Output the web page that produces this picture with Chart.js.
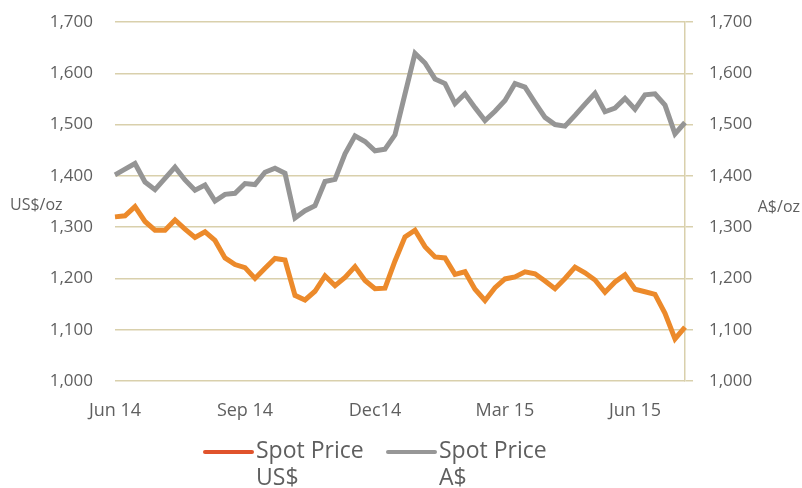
<!DOCTYPE html>
<html lang="en">

<head>
    <meta charset="UTF-8">
    <script src="https://cdn.jsdelivr.net/npm/chart.js"></script>
    <title>Gold spot price</title>
    <style>
        body { margin: 0; background: #fff; }
        #wrap { width: 802px; height: 488px; }
    </style>
</head>

<body>
    <div id="wrap"><canvas id="gold"></canvas></div>
</body>

<script>
    // weekly categories, Jun 2014 - Jul 2015
    const weeks = ['2 Jun 14', '9 Jun 14', '16 Jun 14', '23 Jun 14', '30 Jun 14', '7 Jul 14', '14 Jul 14', '21 Jul 14',
        '28 Jul 14', '4 Aug 14', '11 Aug 14', '18 Aug 14', '25 Aug 14', '1 Sep 14', '8 Sep 14', '15 Sep 14',
        '22 Sep 14', '29 Sep 14', '6 Oct 14', '13 Oct 14', '20 Oct 14', '27 Oct 14', '3 Nov 14', '10 Nov 14',
        '17 Nov 14', '24 Nov 14', '1 Dec 14', '8 Dec 14', '15 Dec 14', '22 Dec 14', '29 Dec 14', '5 Jan 15',
        '12 Jan 15', '19 Jan 15', '26 Jan 15', '2 Feb 15', '9 Feb 15', '16 Feb 15', '23 Feb 15', '2 Mar 15',
        '9 Mar 15', '16 Mar 15', '23 Mar 15', '30 Mar 15', '6 Apr 15', '13 Apr 15', '20 Apr 15', '27 Apr 15',
        '4 May 15', '11 May 15', '18 May 15', '25 May 15', '1 Jun 15', '8 Jun 15', '15 Jun 15', '22 Jun 15',
        '29 Jun 15', '6 Jul 15'];

    // which category gets a tick label
    const tickLabels = { 0: 'Jun 14', 13: 'Sep 14', 26: 'Dec14', 39: 'Mar 15', 52: 'Jun 15' };

    const spotUS = [1320, 1322, 1340, 1311, 1294, 1294, 1314, 1296, 1280, 1291,
        1274, 1240, 1227, 1221, 1200, 1220, 1239, 1236, 1167, 1158,
        1175, 1205, 1186, 1202, 1223, 1196, 1180, 1181, 1234, 1281,
        1294, 1262, 1242, 1240, 1208, 1213, 1179, 1157, 1182, 1199,
        1203, 1213, 1209, 1195, 1180, 1200, 1222, 1211, 1197, 1173,
        1193, 1207, 1179, 1174, 1169, 1132, 1082, 1105];

    const spotAU = [1402, 1413, 1424, 1388, 1373, 1395, 1417, 1392, 1372, 1382,
        1351, 1364, 1366, 1385, 1383, 1407, 1415, 1405, 1318, 1332,
        1342, 1389, 1393, 1443, 1478, 1467, 1449, 1452, 1480, 1560,
        1639, 1620, 1589, 1580, 1541, 1560, 1533, 1508, 1526, 1547,
        1580, 1573, 1543, 1514, 1500, 1497, 1518, 1540, 1561, 1525,
        1532, 1551, 1530, 1558, 1560, 1538, 1482, 1504];

    const seriesNames = [['Spot Price', 'US$'], ['Spot Price', 'A$']];
    const unitNames = ['US$/oz', 'A$/oz'];

    const textColor = '#5f5f5f';
    const gridColor = '#d9d0ac';
    const orange = '#ec8a2b';
    const grey = '#959595';
    const legendColors = ['#e0532c', '#979797'];

    // unit labels beside each axis + the two-line legend at the bottom
    const extras = {
        id: 'extras',
        afterDraw(chart) {
            let ctx = chart.ctx;
            let a = chart.chartArea;
            ctx.save();
            ctx.fillStyle = textColor;
            ctx.textBaseline = 'middle';
            ctx.font = '16px "Open Sans"';
            let ty = a.top + (a.bottom - a.top) * 0.51;
            ctx.textAlign = 'left';
            ctx.fillText(unitNames[0], 10, ty);
            ctx.textAlign = 'right';
            ctx.fillText(unitNames[1], 800, ty + 2);

            ctx.font = '23px "Open Sans"';
            ctx.textAlign = 'left';
            for (let i = 0; i < seriesNames.length; i++) {
                let x = 205 + i * 183;
                ctx.strokeStyle = legendColors[i];
                ctx.lineWidth = 4;
                ctx.lineCap = 'round';
                ctx.beginPath();
                ctx.moveTo(x, 452);
                ctx.lineTo(x + 47, 452);
                ctx.stroke();
                ctx.fillText(seriesNames[i][0], x + 51, 451);
                ctx.fillText(seriesNames[i][1], x + 51, 478);
            }
            ctx.restore();
        }
    };

    function fitY(w) {
        return function (scale) {
            scale.width = w;
            scale.paddingTop = 0;
            scale.paddingBottom = 0;
        };
    }

    let ctx = document.getElementById('gold').getContext('2d');
    let goldChart = new Chart(ctx, {
        type: 'line',
        data: {
            labels: weeks,
            datasets: [{
                label: seriesNames[0].join(' '),
                data: spotUS,
                yAxisID: 'yUS',
                borderColor: orange,
                borderWidth: 5,
                pointRadius: 0,
                tension: 0
            }, {
                label: seriesNames[1].join(' '),
                data: spotAU,
                yAxisID: 'yAU',
                borderColor: grey,
                borderWidth: 5,
                pointRadius: 0,
                tension: 0
            }]
        },
        options: {
            responsive: true,
            maintainAspectRatio: false,
            animation: false,
            layout: { padding: { top: 22, left: 0, right: 0, bottom: 0 } },
            plugins: {
                legend: { display: false },
                tooltip: { enabled: false }
            },
            scales: {
                x: {
                    grid: { display: false },
                    border: { display: false },
                    afterFit: function (scale) { scale.height = 107; },
                    ticks: {
                        autoSkip: false,
                        maxRotation: 0,
                        minRotation: 0,
                        padding: 11,
                        color: textColor,
                        font: { family: 'Open Sans', size: 18 },
                        callback: function (val, index) {
                            return tickLabels[index] || '';
                        }
                    }
                },
                yUS: {
                    position: 'left',
                    min: 1000,
                    max: 1700,
                    afterFit: fitY(115),
                    grid: { color: gridColor, lineWidth: 1.5, drawTicks: false },
                    border: { display: false },
                    ticks: {
                        stepSize: 100,
                        padding: 22,
                        color: textColor,
                        font: { family: 'Open Sans', size: 17 },
                        callback: function (v) { return v.toLocaleString('en-US'); }
                    }
                },
                yAU: {
                    position: 'right',
                    min: 1000,
                    max: 1700,
                    afterFit: fitY(117),
                    grid: { color: gridColor, lineWidth: 1.5, drawOnChartArea: false, drawTicks: true, tickLength: 8 },
                    border: { display: true, color: gridColor, width: 1.5 },
                    ticks: {
                        stepSize: 100,
                        padding: 16,
                        color: textColor,
                        font: { family: 'Open Sans', size: 17 },
                        callback: function (v) { return v.toLocaleString('en-US'); }
                    }
                }
            }
        },
        plugins: [extras]
    });
</script>

</html>
